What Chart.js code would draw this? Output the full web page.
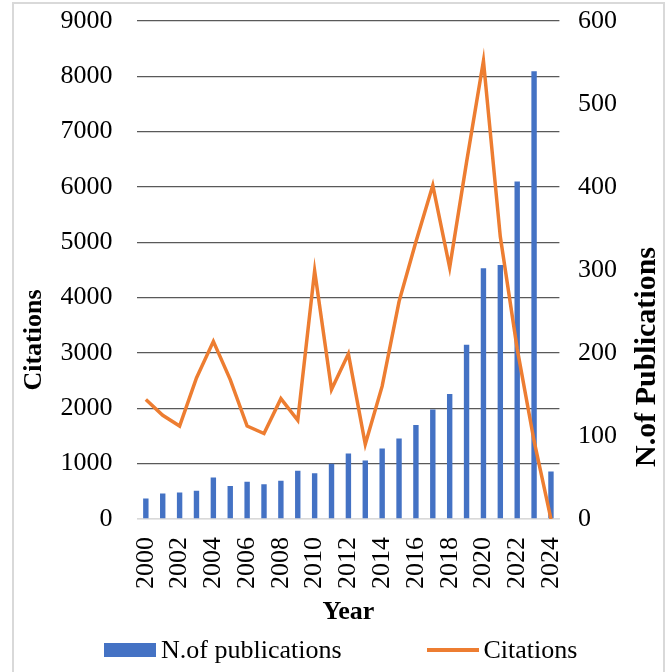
<!DOCTYPE html>
<html>
<head>
<meta charset="utf-8">
<script src="https://cdn.jsdelivr.net/npm/chart.js@4.4.1/dist/chart.umd.min.js"></script>
<style>
  html, body { margin: 0; padding: 0; background: #fff; }
  #wrap { position: relative; width: 665px; height: 672px; overflow: hidden; }
  #frame {
    position: absolute; left: 12px; top: 2px; width: 649px; height: 700px;
    border-left: 2px solid #d9d9d9; border-top: 2px solid #d9d9d9; border-right: 2px solid #d9d9d9;
    pointer-events: none;
  }
  #legend {
    position: absolute; left: 104px; top: 636px; height: 28px;
    display: flex; align-items: center; gap: 85px;
    font: 26px "Liberation Serif", "Times New Roman", serif; color: #000;
  }
  .item { display: flex; align-items: center; white-space: nowrap; }
  .swatch { width: 52px; margin-right: 5px; }
</style>
</head>
<body>
<div id="wrap">
  <canvas id="chart" width="665" height="672"></canvas>
  <div id="frame"></div>
  <div id="legend"></div>
</div>
<script>
// yearly data
const years = ['2000','2001','2002','2003','2004','2005','2006','2007','2008','2009','2010','2011','2012',
  '2013','2014','2015','2016','2017','2018','2019','2020','2021','2022','2023','2024'];
const publications = [370, 460, 480, 510, 750, 595, 675, 630, 690, 870, 825, 1000, 1185,
  1055, 1276, 1455, 1700, 1980, 2260, 3150, 4530, 4590, 6100, 8090, 860];
const citations = [144, 125, 112, 170, 214, 168, 112, 103, 145, 119, 299, 156, 199,
  90, 160, 262, 334, 402, 303, 430, 552, 340, 205, 94, 0];

const leftTitle = 'Citations';
const rightTitle = 'N.of Publications';
const xTitle = 'Year';

const BLUE = '#4472C4';
const ORANGE = '#ED7D31';
const FONT = '"Liberation Serif", "Times New Roman", serif';

// vertical axis titles, both reading bottom-to-top
const sideTitles = {
  id: 'sideTitles',
  afterDraw(chart) {
    const ctx = chart.ctx;
    ctx.save();
    ctx.fillStyle = '#000';
    ctx.textAlign = 'center';
    ctx.textBaseline = 'middle';
    [[leftTitle, 34, 340, 26], [rightTitle, 647, 357, 30]].forEach(([txt, x, y, size]) => {
      ctx.save();
      ctx.font = 'bold ' + size + 'px ' + FONT;
      ctx.translate(x, y);
      ctx.rotate(-Math.PI / 2);
      ctx.fillText(txt, 0, 0);
      ctx.restore();
    });
    ctx.restore();
  }
};

const plain = v => String(v);

const chart = new Chart(document.getElementById('chart'), {
  type: 'bar',
  data: {
    labels: years,
    datasets: [
      {
        type: 'line',
        label: 'Citations',
        data: citations,
        yAxisID: 'y1',
        borderColor: ORANGE,
        backgroundColor: ORANGE,
        borderWidth: 3.5,
        pointRadius: 0,
        tension: 0,
        order: 0
      },
      {
        label: 'N.of publications',
        data: publications,
        yAxisID: 'y',
        backgroundColor: BLUE,
        categoryPercentage: 1,
        barPercentage: 0.32,
        order: 1
      }
    ]
  },
  options: {
    responsive: false,
    animation: false,
    layout: { padding: { left: 13, right: 0, top: 21, bottom: 44 } },
    plugins: {
      legend: { display: false },
      tooltip: { enabled: false }
    },
    scales: {
      x: {
        afterFit: s => { s.height = 109; },
        grid: { display: false },
        border: { color: '#d9d9d9', width: 1.5 },
        ticks: {
          autoSkip: false,
          minRotation: 90,
          maxRotation: 90,
          padding: 10,
          color: '#000',
          font: { family: FONT, size: 26 },
          callback: (v, i) => (i % 2 === 0 ? years[i] : '')
        },
        title: {
          display: true,
          text: xTitle,
          color: '#000',
          font: { family: FONT, size: 26, weight: 'bold' },
          padding: { top: 7, bottom: 0 }
        }
      },
      y: {
        position: 'left',
        min: 0,
        max: 9000,
        afterFit: s => { s.width = 124.4; },
        border: { display: false },
        grid: {
          drawTicks: true,
          tickLength: 22,
          tickColor: 'transparent',
          lineWidth: 1.3,
          color: c => (c.tick && c.tick.value === 0 ? '#d9d9d9' : '#595959')
        },
        ticks: {
          stepSize: 1000,
          padding: 3,
          color: '#000',
          font: { family: FONT, size: 26 },
          callback: plain
        }
      },
      y1: {
        position: 'right',
        min: 0,
        max: 600,
        afterFit: s => { s.width = 105.6; },
        border: { display: false },
        grid: {
          drawOnChartArea: false,
          drawTicks: true,
          tickLength: 16,
          tickColor: 'transparent'
        },
        ticks: {
          stepSize: 100,
          padding: 2.6,
          color: '#000',
          font: { family: FONT, size: 26 },
          callback: plain
        }
      }
    }
  },
  plugins: [sideTitles]
});

// legend built from the chart's datasets, bars first
const legend = document.getElementById('legend');
[chart.data.datasets[1], chart.data.datasets[0]].forEach(ds => {
  const item = document.createElement('div');
  item.className = 'item';
  const sw = document.createElement('span');
  sw.className = 'swatch';
  if (ds.type === 'line') {
    sw.style.height = '3.5px';
    sw.style.background = ds.borderColor;
  } else {
    sw.style.height = '14px';
    sw.style.background = ds.backgroundColor;
  }
  const txt = document.createElement('span');
  txt.textContent = ds.label;
  item.appendChild(sw);
  item.appendChild(txt);
  legend.appendChild(item);
});
</script>
</body>
</html>
